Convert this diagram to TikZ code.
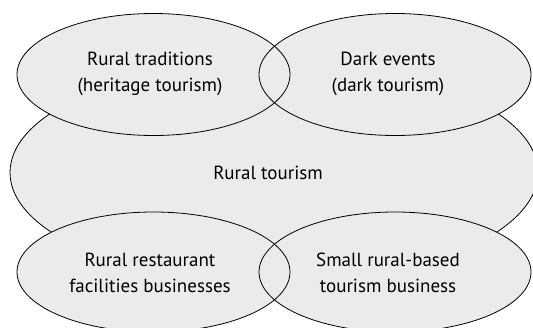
\documentclass[tikz,border=0pt]{standalone}
\usepackage{fontspec}
\setmainfont{PT Sans}
\usetikzlibrary{shapes.geometric}
\definecolor{fillgray}{HTML}{EBEBEB}
\tikzset{
  ell/.style={ellipse, inner sep=0pt, line width=0.8pt},
  lbl/.style={align=center, font=\fontsize{19}{26}\selectfont, text=black},
  bord/.style={line width=0.8pt, draw=black},
}
\begin{document}
\begin{tikzpicture}[x=1pt,y=-1pt]
\useasboundingbox (0,0) rectangle (533,327);
\clip (0,0) rectangle (533,327);
% big ellipse
\node[ell, fill=fillgray, draw=black, minimum width=528pt, minimum height=222pt] (big) at (274,172.5) {};
% small ellipses: fills
\node[ell, fill=fillgray, minimum width=273pt, minimum height=122pt] (tl) at (153.5,74.5) {};
\node[ell, fill=fillgray, minimum width=272pt, minimum height=122pt] (tr) at (395,74.5) {};
\node[ell, fill=fillgray, minimum width=273pt, minimum height=120pt] (bl) at (153.5,272) {};
\node[ell, fill=fillgray, minimum width=272pt, minimum height=120pt] (br) at (395,272) {};
% borders
\draw[bord] (tl.center) ellipse [x radius=136.5pt, y radius=61pt];
\draw[bord] (tr.center) ellipse [x radius=136pt, y radius=61pt];
\draw[bord] (bl.center) ellipse [x radius=136.5pt, y radius=60pt];
\draw[bord] (br.center) ellipse [x radius=136pt, y radius=60pt];
% labels
\node[lbl] (ttl) at (150,74) {Rural traditions\\(heritage tourism)};
\node[lbl] (ttr) at (388,74) {Dark events\\(dark tourism)};
\node[lbl] (tbig) at (268,173) {Rural tourism};
\node[lbl] (tbl) at (150,272.5) {Rural restaurant\\facilities businesses};
\node[lbl] (tbr) at (388,272.5) {Small rural-based\\tourism business};
\end{tikzpicture}
\end{document}
